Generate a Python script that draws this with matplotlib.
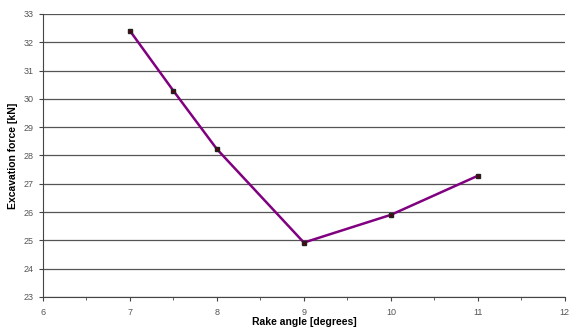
import matplotlib
matplotlib.use("Agg")
import matplotlib.pyplot as plt
from matplotlib.ticker import MultipleLocator

rake_angle = [7, 7.5, 8, 9, 10, 11]
force = [32.4, 30.28, 28.22, 24.92, 25.9, 27.28]

plt.rcParams["font.family"] = ["Liberation Sans", "DejaVu Sans"]

fig = plt.figure(figsize=(5.69, 3.31), dpi=100)
ax = fig.add_axes([0.0756, 0.103, 0.917, 0.855])

ax.plot(rake_angle, force, color="#800080", linewidth=1.8, zorder=3)
ax.plot(rake_angle, force, linestyle="none", marker="s", markersize=3.2,
        markerfacecolor="#5a0010", markeredgecolor="#222222", zorder=4)

ax.set_xlim(6, 12)
ax.set_ylim(23, 33)
ax.xaxis.set_major_locator(MultipleLocator(1))
ax.xaxis.set_minor_locator(MultipleLocator(0.5))
ax.yaxis.set_major_locator(MultipleLocator(1))

ax.yaxis.grid(True, color="#555555", linewidth=0.9)
ax.set_axisbelow(True)
for s in ("top", "right"):
    ax.spines[s].set_visible(False)
ax.spines["left"].set_color("#444444")
ax.spines["bottom"].set_color("#444444")

ax.tick_params(axis="both", which="major", labelsize=6.5, labelcolor="#555555",
               color="#444444", length=3, direction="out")
ax.tick_params(axis="x", which="major", pad=5)
ax.tick_params(axis="x", which="minor", length=2, color="#444444")

ax.set_xlabel("Rake angle [degrees]", fontsize=7.5, fontweight="bold")
ax.set_ylabel("Excavation force [kN]", fontsize=7.5, fontweight="bold")
ax.xaxis.set_label_coords(0.5, -0.072)
ax.yaxis.set_label_coords(-0.048, 0.5)

fig.savefig("out.png", dpi=100)
